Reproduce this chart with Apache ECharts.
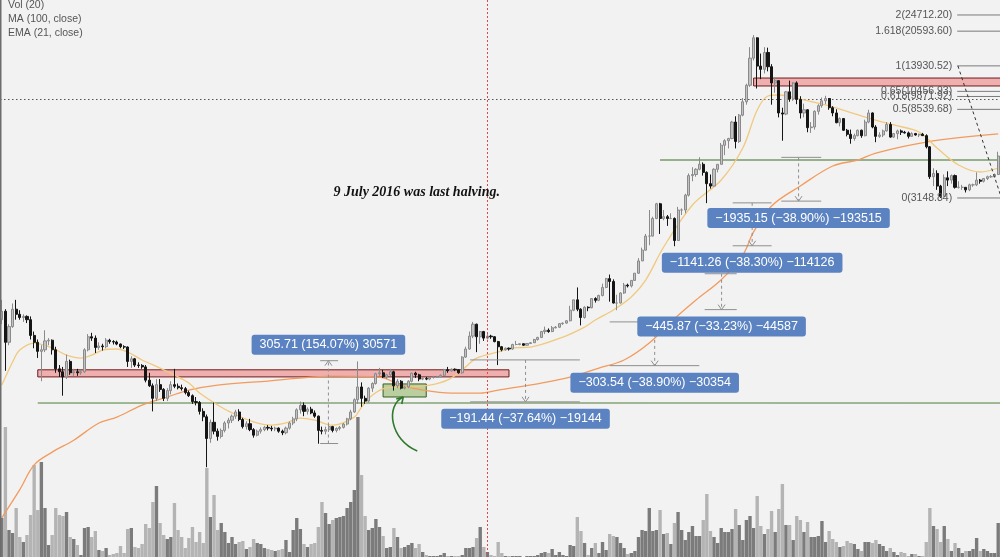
<!DOCTYPE html>
<html><head><meta charset="utf-8">
<script src="https://cdn.jsdelivr.net/npm/echarts@6/dist/echarts.min.js"></script>
<style>html,body{margin:0;padding:0;background:#f2f2f2}#c{width:1000px;height:557px}</style>
</head><body><div id="c"></div>
<script>
// ---- data (weekly, from week of 2013-12-09) ----
const firstWeek = '2013-12-09';
// [open, high, low, close]
const weeklyOHLC = [
[800,1000,760,880],[880,900,450,620],[620,760,600,740],[740,960,730,900],[900,1000,800,850],
[850,890,800,820],[820,850,780,830],[830,840,770,800],[800,830,640,670],[670,700,580,620],
[620,640,520,560],[560,600,400,570],[570,710,555,630],[630,650,600,635],[635,640,540,570],
[570,590,440,460],[460,480,420,445],[445,470,340,420],[420,540,410,500],[500,510,430,440],
[440,460,425,445],[445,460,425,440],[440,455,430,445],[445,580,440,570],[570,680,560,660],
[660,690,630,650],[650,670,550,585],[585,620,570,595],[595,610,565,590],[590,650,580,635],
[635,645,610,625],[625,635,605,622],[622,632,600,608],[608,612,580,590],[590,600,575,588],
[588,592,470,500],[500,530,465,515],[515,520,470,480],[480,495,465,478],[478,485,460,470],
[470,480,395,405],[405,440,375,380],[380,390,285,330],[330,410,320,385],[385,410,355,365],
[365,370,320,330],[330,370,320,360],[360,400,345,385],[385,460,370,378],[378,390,365,372],
[372,385,360,368],[368,375,345,352],[352,360,335,340],[340,345,310,318],[318,335,305,315],
[315,320,275,285],[285,295,255,268],[268,275,152,210],[210,260,200,252],[252,315,220,228],
[228,235,205,215],[215,235,210,230],[230,255,225,250],[250,265,235,258],[258,275,250,270],
[270,290,262,283],[283,292,255,260],[260,265,235,240],[240,255,232,248],[248,262,228,232],
[232,236,212,218],[218,232,215,228],[228,238,222,232],[232,242,228,238],[238,244,230,236],
[236,242,228,234],[234,240,228,236],[236,238,224,228],[228,232,218,224],[224,240,220,236],
[236,254,232,250],[250,268,244,262],[262,295,255,290],[290,318,278,305],[305,315,270,285],
[285,298,275,292],[292,300,276,280],[280,288,265,270],[270,272,198,230],[230,240,220,228],
[228,240,220,232],[232,245,226,240],[240,242,225,230],[230,238,225,235],[235,242,230,238],
[238,250,235,247],[247,265,243,262],[262,290,258,283],[283,330,280,325],[325,500,310,375],
[375,395,300,330],[330,340,310,320],[320,375,315,370],[370,395,355,390],[390,440,385,435],
[435,465,425,440],[440,455,415,420],[420,435,410,430],[430,460,425,445],[445,450,360,380],
[380,410,370,400],[400,405,365,370],[370,380,365,375],[375,405,370,400],[400,440,395,438],
[438,445,415,430],[430,435,400,410],[410,418,405,412],[412,420,405,410],[410,420,405,418],
[418,425,412,420],[420,425,415,420],[420,432,418,428],[428,460,425,455],[455,470,440,450],
[450,462,445,458],[458,462,448,455],[455,458,435,440],[440,530,435,525],[525,590,520,575],
[575,700,570,665],[665,780,650,760],[760,765,555,660],[660,705,610,700],[700,705,630,650],
[650,680,640,665],[665,675,645,660],[660,665,620,625],[625,630,480,590],[590,595,560,570],
[570,585,565,580],[580,585,565,575],[575,610,570,605],[605,630,600,605],[605,612,600,610],
[610,612,595,600],[600,615,598,612],[612,622,608,617],[617,645,615,640],[640,660,632,655],
[655,705,650,700],[700,740,680,710],[710,725,690,700],[700,745,695,730],[730,745,725,735],
[735,770,730,765],[765,775,755,770],[770,795,765,790],[790,935,785,890],[890,1000,880,1000],
[1000,1150,880,900],[900,910,750,820],[820,930,810,920],[920,930,880,915],[915,1020,910,1015],
[1015,1030,970,995],[995,1060,985,1050],[1050,1200,1040,1150],[1150,1280,1140,1270],[1270,1330,980,1230],
[1230,1260,960,965],[965,1060,890,965],[965,1090,960,1080],[1080,1210,1070,1180],[1180,1200,1150,1170],
[1170,1250,1150,1245],[1245,1350,1240,1350],[1350,1600,1340,1550],[1550,1800,1550,1750],[1750,2100,1740,2050],
[2050,2750,1850,2050],[2050,2550,2040,2500],[2500,2980,2480,2950],[2950,2980,2100,2500],[2500,2750,2450,2550],
[2550,2600,2300,2500],[2500,2650,2480,2500],[2500,2530,1830,1950],[1950,2850,1940,2750],[2750,2800,2600,2750],
[2750,3300,2650,3250],[3250,4150,3200,4050],[4050,4450,3800,4100],[4100,4400,4000,4350],[4350,4980,4300,4600],
[4600,4700,4050,4200],[4200,4250,2970,3700],[3700,4100,3500,3600],[3600,4400,3580,4350],[4350,4600,4200,4600],
[4600,5850,4600,5700],[5700,6100,5100,6000],[6000,6200,5500,6150],[6150,7500,6100,7400],[7400,7900,5500,5950],
[5950,8100,5850,8000],[8000,9700,7900,9300],[9300,11400,9000,11200],[11200,17200,11000,15200],[15200,19700,14800,19100],
[19100,19200,10800,13900],[13900,16000,12000,13400],[13400,17200,12800,16200],[16200,17100,13100,13800],[13800,14200,9000,11500],
[11500,12200,10300,11800],[11800,11800,7800,8200],[8200,8700,6000,8100],[8100,10500,8000,10400],[10400,11800,9300,9600],
[9600,11600,9400,11500],[11500,11700,9050,9550],[9550,9900,7700,8200],[8200,9100,7800,8500],[8500,8550,6600,6950],
[6950,7400,6550,7000],[7000,8450,6800,8350],[8350,9050,8050,8900],[8900,9750,8700,9400],[9400,9950,9050,9650],
[9650,9700,8500,8700],[8700,8850,7900,8200],[8200,8550,7300,7350],[7350,7800,7050,7700],[7700,7750,6700,6750],
[6750,6850,6300,6450],[6450,6800,5800,6150],[6150,6500,6000,6350],[6350,6800,6300,6750],[6750,6800,6200,6350],
[6350,7600,6300,7400],[7400,8500,7300,8200],[8200,8250,6900,7000],[7000,7150,5900,6300],[6300,6600,6200,6400],
[6400,6800,6250,6700],[6700,7400,6650,7200],[7200,7400,6200,6250],[6250,6550,6200,6500],[6500,6800,6100,6700],
[6700,6800,6400,6600],[6600,6700,6500,6550],[6550,6650,6150,6300],[6300,6600,6300,6500],[6500,6550,6350,6400],
[6400,6500,6250,6450],[6450,6550,6330,6350],[6350,6450,5500,5600],[5600,5650,3900,4000],[4000,4400,3600,4150],
[4150,4300,3450,3600],[3600,3650,3150,3200],[3200,4100,3200,3950],[3950,4250,3600,3850],[3850,4100,3700,4050],
[4050,4100,3500,3550],[3550,3800,3500,3550],[3550,3650,3450,3550],[3550,3550,3350,3450],[3450,3700,3400,3650],
[3650,3700,3570,3650],[3650,4200,3600,3850],[3850,3900,3700,3800],[3800,3920,3750,3920],[3920,4050,3850,4000],
[4000,4080,3950,4000],[4000,4150,3950,4100],[4100,5300,4080,5050]
];
const volumes = [
39,130,27,24,49,20,15,22,42,92,47,95,49,12,22,49,42,41,45,20,
18,12,2,29,30,20,26,7,6,9,2,3,4,11,4,28,29,10,9,13,
33,29,55,71,34,22,18,20,54,27,20,9,19,30,15,25,14,89,40,62,
27,34,25,14,20,13,15,16,8,10,18,14,13,9,8,7,6,7,8,17,
5,27,39,28,13,10,13,14,30,55,44,33,37,39,40,41,49,55,67,140,
82,41,27,29,38,30,21,9,10,29,20,9,10,12,14,9,13,5,2,1,
1,1,2,4,1,1,1,1,2,9,9,10,19,30,10,5,2,1,15,4,
1,1,1,1,1,0,1,1,1,2,4,5,4,8,2,5,2,1,12,11,
40,26,14,2,9,14,4,15,7,23,21,20,14,9,3,4,6,20,27,26,
49,26,27,47,23,24,13,34,45,27,17,25,31,21,21,37,63,26,20,14,
29,25,25,28,48,32,17,37,41,29,61,31,23,28,46,25,48,73,32,32,
17,41,37,25,35,20,20,21,36,15,26,18,15,10,11,16,14,13,8,6,
15,15,14,17,13,11,6,9,5,2,5,4,1,3,3,1,1,15,49,31,
28,15,31,18,6,14,9,4,6,6,8,19,6,8,6,4,4,34
];
// indicator readings [weekIndex, value]
const ma100Points = [[0,86],[5,118],[9,156],[14,180],[20,206],[27,250],[32,267],[39,306],[46,335],[52,362],
[60,383],[74,401],[92,424],[105,419],[111,383],[117,362],[125,350],[133,350],[138,362],[150,392],[158,419],
[166,464],[173,508],[180,615],[186,780],[193,998],[200,1253],[206,1657],[209,2148],[214,2878],[222,3604],
[231,4512],[238,4828],[243,5224],[257,5911],[277,6474]];
const ema21Points = [[0,383],[3,497],[5,568],[9,615],[14,582],[18,537],[22,519],[25,537],[28,568],[32,575],
[35,556],[39,508],[44,464],[48,429],[52,392],[55,350],[60,306],[64,280],[70,253],[75,244],[79,250],[83,264],
[87,258],[92,244],[98,267],[100,299],[103,342],[107,371],[112,375],[119,383],[124,406],[128,454],[132,519],
[138,556],[142,582],[147,588],[156,658],[162,736],[165,797],[170,892],[175,1033],[179,1250],[184,1813],
[192,2910],[200,3855],[206,5526],[210,8480],[213,9926],[216,10040],[223,9490],[230,8870],[240,7835],
[248,7161],[255,6618],[260,5526],[266,4564],[272,4219],[277,4413]];
const legendLines = ['Vol (20)', 'MA (100, close)', 'EMA (21, close)'];
const fibLevels = [[2,24712.20],[1.618,20593.60],[1,13930.52],[0.65,10456.93],[0.618,9871.92],[0.5,8539.68],[0,3148.84]];
const measureTexts = ['305.71 (154.07%) 30571','−191.44 (−37.64%) −19144','−303.54 (−38.90%) −30354',
  '−445.87 (−33.23%) −44587','−1141.26 (−38.30%) −114126','−1935.15 (−38.90%) −193515'];
const measurePrices = [[198.42,504.13],[508.6,317.16],[780.3,476.8],[1341.8,895.9],[2979.8,1838.5],[4974.7,3039.5]];
const halvingNote = '9 July 2016 was last halving.';

// ---- annotation anchors (week index) ----
const measureAnchors = [[88.5,93.5,90.8],[130.2,160.7,145.6],[169,193.9,181.5],[195.4,204.3,200.1],[203.2,214,208.6],[216.7,227.8,221.5]];

const categories = weeklyOHLC.map((_, i) => new Date(Date.UTC(2013,11,9) + i*7*86400000).toISOString().slice(0,10));
const candleData = weeklyOHLC.map(r => [r[0], r[3], r[2], r[1]]);
const volData = volumes.map((v, i) => ({value: v, itemStyle: {color: weeklyOHLC[i][3] >= weeklyOHLC[i][0] ? '#7b7b7b' : '#b4b4b4'}}));

const chart = echarts.init(document.getElementById('c'), null, {renderer: 'canvas'});
chart.setOption({
  animation: false,
  backgroundColor: '#f2f2f2',
  grid: [
    {left: -1, right: -1, top: 0, bottom: 0},
    {left: -1, right: -1, top: 415, height: 142}
  ],
  xAxis: [
    {type: 'category', data: categories, gridIndex: 0, show: false, boundaryGap: true},
    {type: 'category', data: categories, gridIndex: 1, show: false, boundaryGap: true}
  ],
  yAxis: [
    {type: 'log', logBase: 10, gridIndex: 0, min: 55.3, max: 29250, show: false, splitLine: {show: false}},
    {type: 'value', gridIndex: 1, min: 0, max: 142, show: false, splitLine: {show: false}}
  ],
  series: [
    {type: 'bar', xAxisIndex: 1, yAxisIndex: 1, data: volData, barCategoryGap: '6%', z: 1},
    {type: 'line', xAxisIndex: 0, yAxisIndex: 0, data: ma100Points, showSymbol: false, smooth: 0.35,
      lineStyle: {color: '#f29b5e', width: 1.3}, z: 3},
    {type: 'line', xAxisIndex: 0, yAxisIndex: 0, data: ema21Points, showSymbol: false, smooth: 0.35,
      lineStyle: {color: '#f0c97e', width: 1.3}, z: 3},
    {type: 'candlestick', xAxisIndex: 0, yAxisIndex: 0, data: candleData, barWidth: '72%', z: 4,
      itemStyle: {color: '#c2c2c2', color0: '#151515', borderColor: '#8a8a8a', borderColor0: '#151515', borderWidth: 1}}
  ]
});

function px(i, price) {
  const a = chart.convertToPixel({gridIndex: 0}, [0, price]);
  const b = chart.convertToPixel({gridIndex: 0}, [100, price]);
  return [a[0] + i * (b[0] - a[0]) / 100, a[1]];
}
const W = 1000, H = 557;
const g = [];
function line(x1, y1, x2, y2, stroke, w, dash, z) {
  g.push({type: 'line', z: z || 50, silent: true, shape: {x1, y1, x2, y2},
    style: {stroke, lineWidth: w || 1, lineDash: dash || null}});
}
function rectP(i1, i2, p1, p2, fill, stroke, xr) {
  const a = px(i1, p2), b = px(i2, p1);
  const x2 = xr != null ? xr : b[0];
  g.push({type: 'rect', z: 0, silent: true, shape: {x: a[0], y: a[1], width: x2 - a[0], height: b[1] - a[1]},
    style: {fill, stroke, lineWidth: 1}});
}
// left border
g.push({type: 'rect', z: 60, shape: {x: 0, y: 0, width: 1.5, height: H}, style: {fill: '#6d6d6d'}});
// red zones and green box
rectP(10, 141, 420, 455, 'rgba(236,120,120,0.55)', '#6e1c1c');
rectP(209, 277, 11110, 12150, 'rgba(236,120,120,0.55)', '#6e1c1c', W + 2);
rectP(106, 118, 335, 388, 'rgba(128,172,78,0.5)', '#355f1e');
// green horizontal levels
(function(){
  const a = px(10, 313); line(a[0], a[1], W, a[1], '#4d7d38', 1, null, 1);
  const b = px(183, 4828); line(b[0], b[1], W, b[1], '#3b6f25', 1, null, 1);
})();
// crosshair + halving line
(function(){
  const h = px(0, 9598); line(0, Math.round(h[1]) + 0.5, W, Math.round(h[1]) + 0.5, '#555', 1, [1.5, 2.5], 1);
  const v = chart.convertToPixel({gridIndex: 0}, [135, 1000]);
  const xv = Math.round(v[0]) + 0.5;
  line(xv, 0, xv, H, '#e04848', 1, [2, 2], 5);
})();
// measurement tools
measurePrices.forEach((mp, k) => {
  const [iA, iB, iM] = measureAnchors[k];
  const [pStart, pEnd] = mp;
  const yS = px(0, pStart)[1], yE = px(0, pEnd)[1];
  const xa = px(iA, 1000)[0], xb = px(iB, 1000)[0], xm = px(iM, 1000)[0];
  line(xa, yS, xb, yS, '#8f8f8f', 1, null, 40);
  line(xa, yE, xb, yE, '#8f8f8f', 1, null, 40);
  line(xm, yS, xm, yE, '#8f8f8f', 1, [3, 3], 40);
  const dir = yE > yS ? 1 : -1;
  line(xm - 3.5, yE - dir * 5, xm, yE, '#8f8f8f', 1, null, 40);
  line(xm + 3.5, yE - dir * 5, xm, yE, '#8f8f8f', 1, null, 40);
  const yLab = dir > 0 ? Math.max(yS, yE) + 17 : Math.min(yS, yE) - 16;
  g.push({type: 'text', z: 90, silent: true, x: xm, y: yLab,
    style: {text: measureTexts[k], fill: '#ffffff', font: '12.5px "Liberation Sans", Arial, sans-serif',
      align: 'center', verticalAlign: 'middle', backgroundColor: '#5b83c1', padding: [3, 8, 2, 8], borderRadius: 3, lineHeight: 15}});
});
// fibonacci levels
fibLevels.forEach(([r, p]) => {
  const a = px(265.6, p);
  line(a[0], a[1], W, a[1], '#7a7a7a', 1, null, 45);
  g.push({type: 'text', z: 91, silent: true, x: a[0] - 5, y: a[1],
    style: {text: r + '(' + p.toFixed(2) + ')', fill: '#555', font: '10.5px "Liberation Sans", Arial, sans-serif',
      align: 'right', verticalAlign: 'middle'}});
});
(function(){
  const a = px(265.8, 13930.52), b = px(277.9, 3148.84);
  line(a[0], a[1], b[0], b[1], '#333', 1, [3, 3], 46);
})();
// halving note
(function(){
  const a = px(92.2, 3368);
  g.push({type: 'text', z: 91, silent: true, x: a[0], y: a[1],
    style: {text: halvingNote, fill: '#111', font: 'italic bold 14px "Liberation Serif", "DejaVu Serif", serif',
      align: 'left', verticalAlign: 'middle'}});
})();
// green curved arrow
(function(){
  const p0 = px(115.5, 182.3), p1 = px(107.9, 206.3), p2 = px(106.6, 306), p3 = px(111.6, 335);
  g.push({type: 'bezierCurve', z: 92, silent: true,
    shape: {x1: p0[0], y1: p0[1], cpx1: p1[0], cpy1: p1[1], cpx2: p2[0], cpy2: p2[1], x2: p3[0], y2: p3[1]},
    style: {stroke: '#2f7a2f', lineWidth: 1.6, fill: null}});
  line(p3[0] - 7, p3[1] + 2, p3[0], p3[1], '#2f7a2f', 1.6, null, 92);
  line(p3[0] - 1.5, p3[1] + 7, p3[0], p3[1], '#2f7a2f', 1.6, null, 92);
})();
// legend
legendLines.forEach((t, k) => {
  g.push({type: 'text', z: 95, silent: true, x: 8, y: 5.5 + k * 14,
    style: {text: t, fill: '#555', font: '10.5px "Liberation Sans", Arial, sans-serif', align: 'left', verticalAlign: 'middle'}});
});
chart.setOption({graphic: {elements: g}});
</script>
</body></html>
